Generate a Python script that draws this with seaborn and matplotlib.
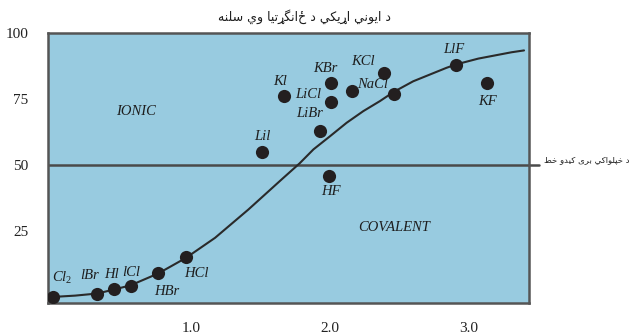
import numpy as np
import pandas as pd
import matplotlib
matplotlib.use("Agg")
import matplotlib.pyplot as plt
import seaborn as sns
from matplotlib.lines import Line2D

# ---------------- data ----------------
point_labels = ["Cl2", "lBr", "Hl", "lCl", "HBr", "HCl", "Lil", "Kl", "LiBr",
                "LiCl", "KBr", "NaCl", "KCl", "", "LlF", "KF", "HF"]
point_dEN = [0.0, 0.32, 0.44, 0.56, 0.76, 0.96, 1.51, 1.67, 1.93,
             2.01, 2.01, 2.16, 2.39, 2.46, 2.91, 3.13, 1.99]
point_ionic = [0, 1, 3, 4, 9, 15, 55, 76, 63,
               74, 81, 78, 85, 77, 88, 81, 46]

curve_dEN = [0.0, 0.16, 0.32, 0.44, 0.56, 0.76, 0.96, 1.17, 1.41, 1.53, 1.65,
             1.78, 1.88, 2.00, 2.12, 2.24, 2.36, 2.46, 2.60, 2.84, 2.91, 3.07,
             3.31, 3.40]
curve_ionic = [0.0, 0.5, 1.3, 2.8, 4.4, 8.9, 14.8, 22.4, 33.1, 38.8, 44.5,
               50.6, 55.9, 60.9, 66.0, 70.4, 74.2, 77.7, 81.7, 86.8, 88.1, 90.3,
               92.7, 93.4]

y_ticks = [25, 50, 75, 100]
x_ticks = [0.5, 1.0, 1.5, 2.0, 2.5, 3.0]
x_tick_labels = ["", "1.0", "", "2.0", "", "3.0"]

title_text = "د ايوني اړيکي د ځانگړتيا وي سلنه"
line_text = "د خپلواکي برى کيدو خط"
ionic_text = "IONIC"
covalent_text = "COVALENT"

# label offsets (points) relative to each marker
label_offsets = {
    "Cl2": (6.5, 13.7), "lBr": (-5.8, 13.7), "Hl": (-1.4, 10.8), "lCl": (0.7, 10),
    "HBr": (5.8, -13), "HCl": (7.2, -11.5), "Lil": (0, 10.8), "Kl": (-2.9, 10.8),
    "LiBr": (-7.9, 12.2), "LiCl": (-16.6, 5), "KBr": (-4.3, 10.8), "NaCl": (14.4, 5),
    "KCl": (-15.1, 7.9), "LlF": (-1.4, 10.8), "KF": (0.7, -13), "HF": (1.4, -11.5),
}

# ---------------- simple Arabic shaping for display ----------------
FORMS = {  # iso, fin, ini, med
    "\u0627": ("\uFE8D", "\uFE8E", None, None),
    "\u0628": ("\uFE8F", "\uFE90", "\uFE91", "\uFE92"),
    "\u062A": ("\uFE95", "\uFE96", "\uFE97", "\uFE98"),
    "\u062E": ("\uFEA5", "\uFEA6", "\uFEA7", "\uFEA8"),
    "\u062F": ("\uFEA9", "\uFEAA", None, None),
    "\u0631": ("\uFEAD", "\uFEAE", None, None),
    "\u0633": ("\uFEB1", "\uFEB2", "\uFEB3", "\uFEB4"),
    "\u0637": ("\uFEC1", "\uFEC2", "\uFEC3", "\uFEC4"),
    "\u0644": ("\uFEDD", "\uFEDE", "\uFEDF", "\uFEE0"),
    "\u0646": ("\uFEE5", "\uFEE6", "\uFEE7", "\uFEE8"),
    "\u0647": ("\uFEE9", "\uFEEA", "\uFEEB", "\uFEEC"),
    "\u0648": ("\uFEED", "\uFEEE", None, None),
    "\u0649": ("\uFEEF", "\uFEF0", None, None),
    "\u064A": ("\uFEF1", "\uFEF2", "\uFEF3", "\uFEF4"),
    "\u067E": ("\uFB56", "\uFB57", "\uFB58", "\uFB59"),
    "\u06A9": ("\uFB8E", "\uFB8F", "\uFB90", "\uFB91"),
    "\u06AF": ("\uFB92", "\uFB93", "\uFB94", "\uFB95"),
    "\u0693": ("\u0693", "\u0693", None, None),
}


def dual(c):
    return c in FORMS and FORMS[c][2] is not None


def joining(c):
    return c in FORMS


def shape(text):
    out = []
    for i, c in enumerate(text):
        if c not in FORMS:
            out.append(c)
            continue
        prev = text[i - 1] if i > 0 else " "
        nxt = text[i + 1] if i + 1 < len(text) else " "
        jp = dual(prev)
        jn = dual(c) and joining(nxt)
        iso, fin, ini, med = FORMS[c]
        if jp and jn:
            out.append(med)
        elif jp:
            out.append(fin)
        elif jn:
            out.append(ini)
        else:
            out.append(iso)
    return "".join(out)[::-1]


# ---------------- plotting ----------------
sns.set_theme(style="white")
plt.rcParams["font.family"] = ["Liberation Serif", "DejaVu Sans"]
plt.rcParams["mathtext.fontset"] = "custom"
plt.rcParams["mathtext.rm"] = "Liberation Serif"
plt.rcParams["mathtext.it"] = "Liberation Serif:italic"

df_pts = pd.DataFrame({"label": point_labels, "x": point_dEN, "y": point_ionic})
df_curve = pd.DataFrame({"x": curve_dEN, "y": curve_ionic})

fig = plt.figure(figsize=(6.39, 3.35), dpi=100)
ax = fig.add_axes([0.0751, 0.0955, 0.7527, 0.806])
ax.set_facecolor("#98CBE0")

dark = "#231F20"
spine_c = "#555555"

sns.lineplot(data=df_curve, x="x", y="y", sort=False, color="#2a2a2a",
             linewidth=1.5, ax=ax, zorder=3)
sns.scatterplot(data=df_pts, x="x", y="y", s=90, color=dark, edgecolor=dark,
                linewidth=0, ax=ax, zorder=4)

ax.set_xlim(-0.036, 3.4357)
ax.set_ylim(-2.3, 100)

# 50% line, extends past right edge
ax.axhline(50, color="#4a4a4a", linewidth=1.8, zorder=2)
ax.add_line(Line2D([1.0, 1.021], [50, 50], transform=ax.get_yaxis_transform(),
                   color="#4a4a4a", linewidth=1.8, clip_on=False))

ax.set_yticks(y_ticks)
ax.set_yticklabels([str(v) for v in y_ticks])
ax.set_xticks(x_ticks + [3.4357])
ax.set_xticklabels(x_tick_labels + [""])
ax.tick_params(axis="both", direction="out", length=12, width=1.8,
               color=spine_c, labelsize=11, labelcolor="#222222", pad=1.5)
ax.tick_params(axis="y", pad=2)
ax.set_xlabel("")
ax.set_ylabel("")
for s in ax.spines.values():
    s.set_visible(True)
    s.set_color(spine_c)
    s.set_linewidth(1.8)

for lab, x, y in zip(point_labels, point_dEN, point_ionic):
    if not lab:
        continue
    txt = r"$Cl_{\mathrm{2}}$" if lab == "Cl2" else lab
    ax.annotate(txt, (x, y), xytext=label_offsets[lab], textcoords="offset points",
                ha="center", va="center", fontsize=10.5, style="italic",
                color="#1e1e1e", zorder=5)

ax.text(0.6, 70.3, ionic_text, fontsize=10.5, style="italic", ha="center",
        va="center", color="#1e1e1e")
ax.text(2.46, 26.3, covalent_text, fontsize=10.5, style="italic", ha="center",
        va="center", color="#1e1e1e")

fig.text(305 / 639, 1 - 17 / 335, shape(title_text), fontsize=9,
         family=["DejaVu Sans"], ha="center", va="center", color="#1e1e1e")
fig.text(544 / 639, 1 - 160 / 335, shape(line_text), fontsize=6.1,
         family=["DejaVu Sans"], ha="left", va="center", color="#1e1e1e")

fig.savefig("out.png", dpi=100)
